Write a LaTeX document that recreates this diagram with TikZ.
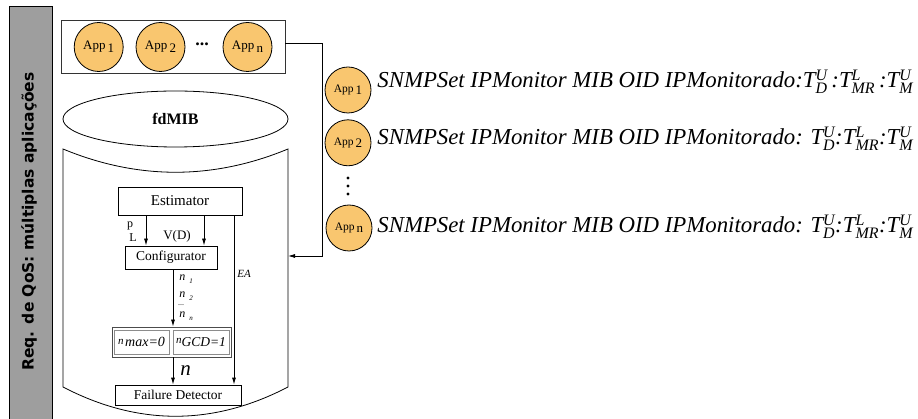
\documentclass[tikz,border=0pt]{standalone}
\usepackage{fontspec}
\setmainfont{Liberation Serif}
\newfontfamily\barfont{DejaVu Sans}
\usetikzlibrary{arrows.meta,shapes.geometric,positioning}
\definecolor{appcor}{HTML}{F9C66F}
\definecolor{barcor}{HTML}{9E9E9E}
\newcommand{\tq}[2]{$\mathit{T}^{\mathit{#2}}_{\mathit{#1}}$}

\begin{document}
\begin{tikzpicture}[x=1pt,y=-1pt,>={Latex[length=7pt,width=4pt]},line width=0.8pt,
  app/.style={circle,draw,fill=appcor,minimum size=49pt,inner sep=0pt,font=\fontsize{13}{13}\selectfont},
  appr/.style={app,minimum size=46pt,font=\fontsize{11.5}{12}\selectfont},
  blk/.style={draw,rectangle,inner sep=0pt},
  rot/.style={inner sep=0pt,font=\fontsize{#1}{#1}\selectfont},
  snmp/.style={anchor=base west,inner sep=0pt,font=\fontsize{22.8}{24}\selectfont\itshape}]
  \useasboundingbox (0,0) rectangle (918,419);
  % barra lateral
  \draw[fill=barcor] (9,6) rectangle (52,425);
  \node[rot=15.5,anchor=base,rotate=90] (req) at (33.5,221.5)
    {\barfont\bfseries Req. de QoS: múltiplas aplicações};
  % aplicacoes
  \node[blk,draw=black!80,minimum width=224pt,minimum height=53pt] (apps) at (173,46.5) {};
  \node[app] (a1) at (98.7,47) {App\,\raisebox{-0.45ex}{1}};
  \node[app,right=12pt of a1] (a2) {App\,\raisebox{-0.45ex}{2}};
  \node[rot=18] (dots) at (202,44) {\textbf{...}};
  \node[app] (an) at (247.5,47) {App\,\raisebox{-0.45ex}{n}};
  % fdMIB
  \node[ellipse,draw,minimum width=225pt,minimum height=56pt,font=\fontsize{16}{16}\selectfont\bfseries] (mib) at (175.5,119) {fdMIB};
  \draw (63,149) .. controls (138,180) and (213,180) .. (288,149) -- (288,387)
    .. controls (213,426) and (138,426) .. (63,387) -- cycle;
  \coordinate (cyl) at (288,256);
  % blocos
  \node[blk,minimum width=124pt,minimum height=28pt,font=\fontsize{15}{15}\selectfont] (est) at (180,201) {Estimator};
  \node[blk,minimum width=92pt,minimum height=23pt,font=\fontsize{13.5}{14}\selectfont] (conf) at (171,257.5) {Configurator};
  \node[blk,draw=black!70,minimum width=119pt,minimum height=30pt] (lim) at (171.5,342) {};
  \node[blk,draw=black!45,minimum width=55pt,minimum height=24pt] (nmax) at (141.5,342)
    {\itshape{\fontsize{11}{11}\selectfont n}\,\raisebox{-0.5ex}{\fontsize{14}{14}\selectfont max=0}};
  \node[blk,draw=black!45,minimum width=56pt,minimum height=24pt] (ngcd) at (201,342)
    {\itshape{\fontsize{11}{11}\selectfont n}\raisebox{-0.6ex}{\fontsize{13.5}{14}\selectfont GCD=1}};
  \node[blk,minimum width=126pt,minimum height=20pt,font=\fontsize{13.5}{14}\selectfont] (fd) at (178,395) {Failure Detector};
  % setas
  \draw[->] ([xshift=-34pt]est.south) -- ([xshift=-25pt]conf.north);
  \draw[->] ([xshift=24pt]est.south) -- ([xshift=33pt]conf.north);
  \draw[->] ([xshift=54pt]est.south) -- ([xshift=56pt]fd.north);
  \draw[->] ([xshift=2pt]conf.south) -- ([xshift=1.5pt]lim.north);
  \draw[->] ([xshift=1.5pt]lim.south) -- ([xshift=-5pt]fd.north);
  \draw[->] ([yshift=3.5pt]apps.east) -- ++(37,0) |- (cyl);
  % rotulos
  \node[rot=12] (lp) at (130,226) {p};
  \node[rot=12] (lpl) at (133,238) {L};
  \node[rot=13] (lv) at (177,236) {V(D)};
  \node[rot=11] (lea) at (244,274) {\itshape EA};
  \node[rot=12,anchor=base west] (ln1) at (179,281) {\itshape n\,\,\raisebox{-0.5ex}{\fontsize{7}{7}\selectfont 1}};
  \node[rot=12,anchor=base west] (ln2) at (179,298) {\itshape n\,\,\raisebox{-0.5ex}{\fontsize{7}{7}\selectfont 2}};
  \node[rot=8] (ldots) at (181,305) {...};
  \node[rot=12,anchor=base west] (lnn) at (179,318) {\itshape n\,\,\raisebox{-0.5ex}{\fontsize{7}{7}\selectfont n}};
  \node[rot=21,anchor=base west] (ln) at (180,376) {\itshape n};
  % aplicacoes com SNMPSet
  \node[appr] (r1) at (348,90) {App\,\raisebox{-0.45ex}{\fontsize{13}{13}\selectfont 1}};
  \node[appr,below=6pt of r1] (r2) {App\,\raisebox{-0.45ex}{\fontsize{13}{13}\selectfont 2}};
  \node[appr] (rn) at (349,228) {App\,\raisebox{-0.45ex}{\fontsize{13}{13}\selectfont n}};
  \foreach \y in {178,186,194}
    \fill (348,\y) circle (1.6);
  \node[snmp] (t1) at (377,88) {SNMPSet IPMonitor MIB OID IPMonitorado:\tq{D}{U}\,:\tq{MR}{L}\,:\tq{M}{U}};
  \node[snmp] (t2) at (377,145) {SNMPSet IPMonitor MIB OID IPMonitorado: \tq{D}{U}:\tq{MR}{L}:\tq{M}{U}};
  \node[snmp] (tn) at (377,233) {SNMPSet IPMonitor MIB OID IPMonitorado: \tq{D}{U}:\tq{MR}{L}:\tq{M}{U}};
\end{tikzpicture}
\end{document}
